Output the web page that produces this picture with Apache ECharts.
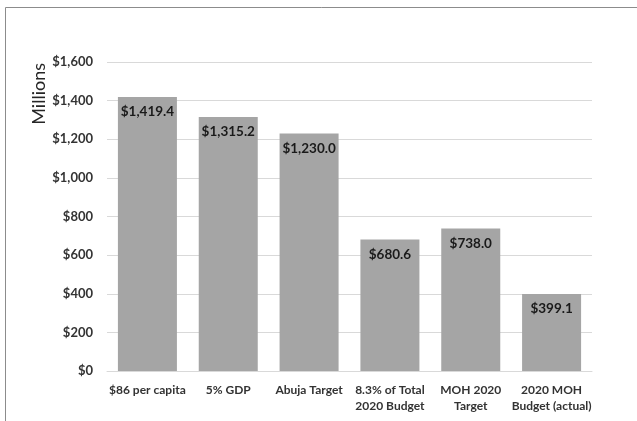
<!DOCTYPE html>
<html><head><meta charset="utf-8">
<script src="https://cdn.jsdelivr.net/npm/echarts@6/dist/echarts.min.js"></script>
<style>html,body{margin:0;padding:0;background:#fff}#c{width:637px;height:421px}</style>
</head><body><div id="c"></div>
<script>
var categories = ['$86 per capita', '5% GDP', 'Abuja Target', '8.3% of Total\n2020 Budget', 'MOH 2020\nTarget', '2020 MOH\nBudget (actual)'];
var values = [1419.4, 1315.2, 1230.0, 680.6, 738.0, 399.1];
var yTicks = [0, 200, 400, 600, 800, 1000, 1200, 1400, 1600];
var yTitle = 'Millions';

function money(v, d) {
  return '$' + Number(v).toLocaleString('en-US', {minimumFractionDigits: d, maximumFractionDigits: d});
}
var FONT = 'Lato';
var chart = echarts.init(document.getElementById('c'), null, {renderer: 'canvas'});
chart.setOption({
  animation: false,
  backgroundColor: '#fff',
  graphic: [
    {type: 'rect', shape: {x: 5.5, y: 7.5, width: 800, height: 600}, style: {fill: 'none', stroke: '#8c8c8c', lineWidth: 1}, silent: true},
    {type: 'text', left: 30, top: 63, rotation: Math.PI / 2, style: {text: yTitle, font: '18px ' + FONT, fill: '#262626'}}
  ],
  grid: {left: 107, right: 45, top: 62, bottom: 50},
  xAxis: {
    type: 'category', data: categories,
    axisLine: {lineStyle: {color: '#d9d9d9'}},
    axisTick: {show: false},
    axisLabel: {interval: 0, color: '#333333', fontFamily: FONT, fontWeight: 'bold', fontSize: 12, lineHeight: 16, margin: 11}
  },
  yAxis: {
    type: 'value', min: yTicks[0], max: yTicks[yTicks.length - 1], interval: yTicks[1] - yTicks[0],
    axisLine: {show: false}, axisTick: {show: false},
    splitLine: {lineStyle: {color: '#d9d9d9'}},
    axisLabel: {color: '#333333', fontFamily: FONT, fontWeight: 'bold', fontSize: 13, margin: 14, formatter: function (v) { return money(v, 0); }}
  },
  series: [{
    type: 'bar', data: values, barCategoryGap: '27%',
    itemStyle: {color: '#a5a5a5'},
    label: {show: true, position: 'insideTop', distance: 8, color: '#1a1a1a', fontFamily: FONT, fontWeight: 'bold', fontSize: 13.5,
      formatter: function (p) { return money(p.value, 1); }}
  }]
});
</script></body></html>
